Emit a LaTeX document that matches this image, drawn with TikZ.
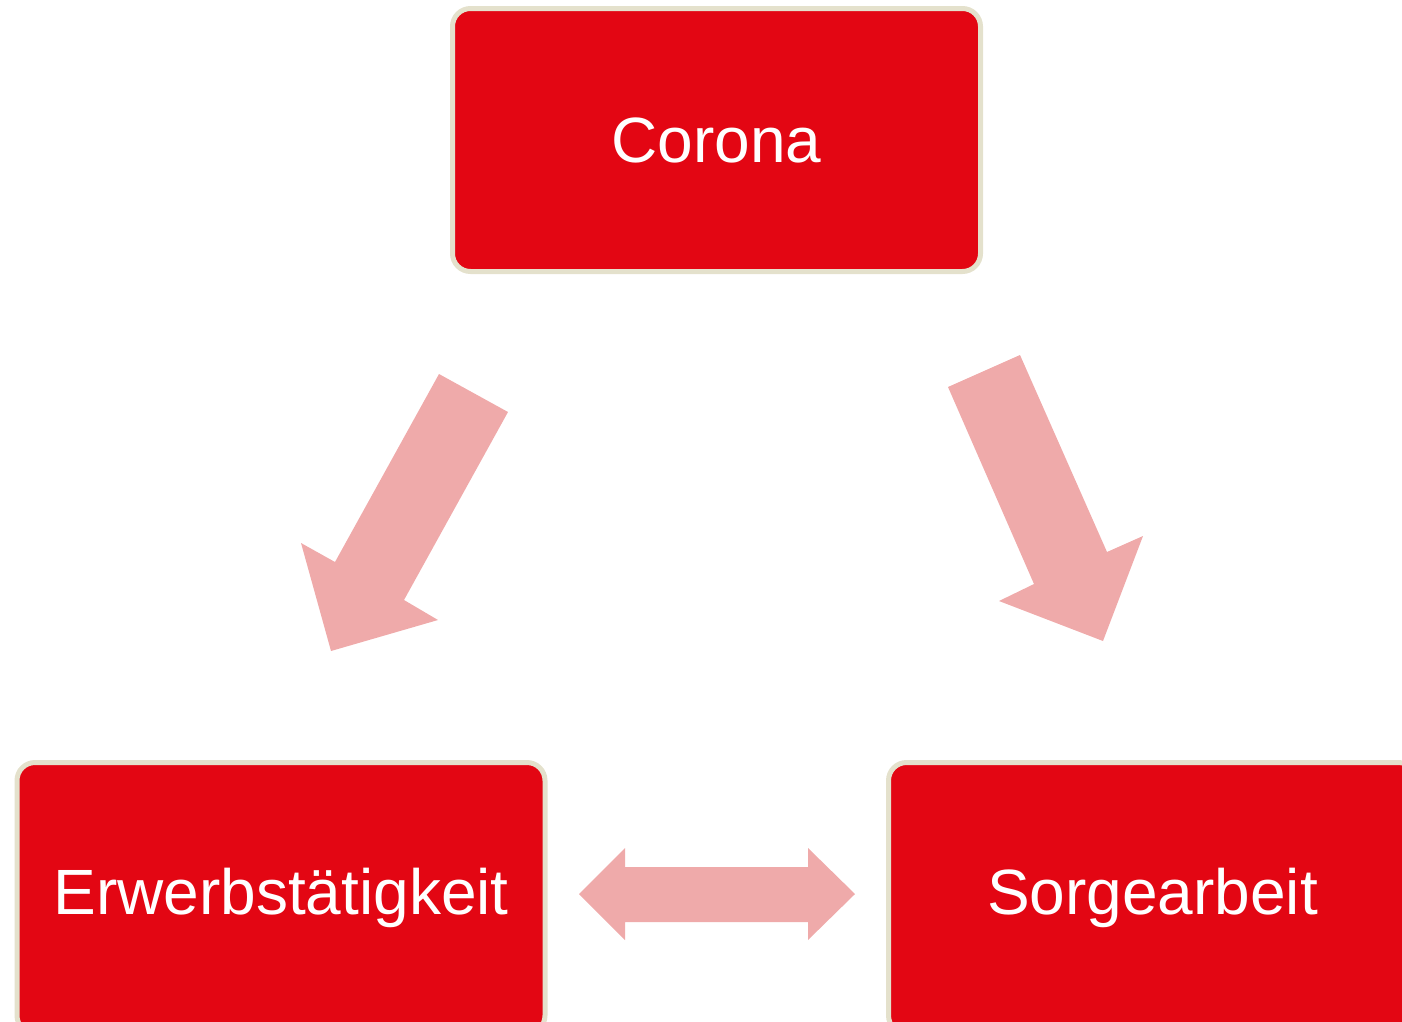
\documentclass[tikz,border=0pt]{standalone}
\usepackage{fontspec}
\setmainfont{Liberation Sans}
\usepackage{tikz}
\usepackage{xcolor}

\definecolor{boxred}{RGB}{227,6,19}
\definecolor{boxrim}{RGB}{228,225,204}
\definecolor{arrowpink}{RGB}{239,170,170}

\tikzset{
  topic/.style={draw=boxrim,line width=5pt,fill=boxred,rounded corners=18pt,
    minimum width=528pt,minimum height=263pt,inner sep=0pt,text=white,
    font=\fontsize{64}{76}\selectfont},
  blockarrow/.style={fill=arrowpink}
}

\begin{document}
\begin{tikzpicture}[x=1pt,y=-1pt]
\useasboundingbox (0,0) rectangle (1402,1021);
\clip (0,0) rectangle (1402,1021);
% the three topics
\node[topic] (corona) at (716.5,140) {Corona};
\node[topic,minimum height=271pt] (erwerb) at (281,898) {Erwerbstätigkeit};
\node[topic,minimum height=271pt] (sorge) at (1152.5,898) {Sorgearbeit};
% block arrows
\fill[blockarrow] (439,374) -- (508,412) -- (404,600) -- (438,620) -- (331,651) -- (301,543) -- (335,562) -- cycle;
\fill[blockarrow] (948,387) -- (1020,355) -- (1107,552) -- (1143,536) -- (1103,641) -- (999,601) -- (1034,584) -- cycle;
\fill[blockarrow] (579,894) -- (625,848) -- (625,867) -- (808,867) -- (808,848) -- (855,894)
  -- (808,940) -- (808,922) -- (625,922) -- (625,940) -- cycle;
\end{tikzpicture}
\end{document}
